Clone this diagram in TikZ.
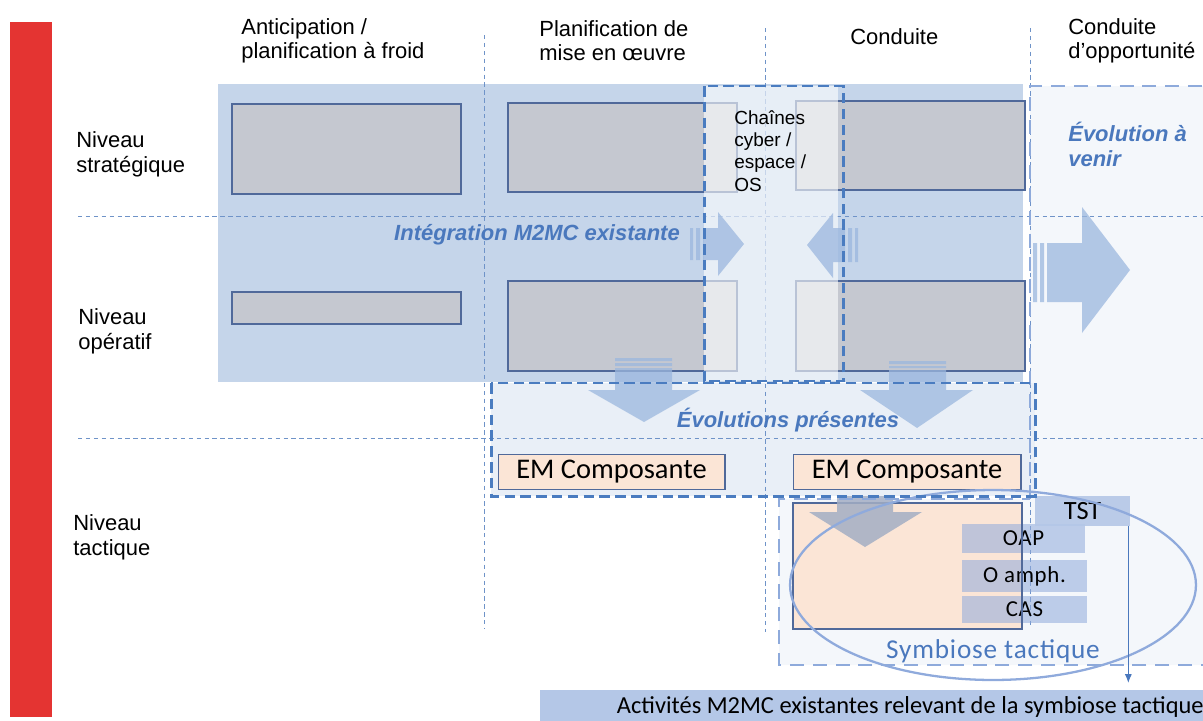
\documentclass[tikz,border=0pt]{standalone}
\usepackage{fontspec}
\setmainfont{Liberation Sans}
\newfontfamily\calib{Carlito}
\newfontfamily\calibwide[LetterSpace=3]{Carlito}
\usetikzlibrary{positioning,arrows.meta}

\definecolor{redbar}{HTML}{E43432}
\definecolor{bgblue}{HTML}{C5D5EA}
\definecolor{greybox}{HTML}{C5C8D0}
\definecolor{boxline}{HTML}{50699A}
\definecolor{peach}{HTML}{FBE5D6}
\definecolor{darkdash}{HTML}{4A7CC0}
\definecolor{lightdash}{HTML}{8EAADB}
\definecolor{gridline}{HTML}{6F93C8}
\definecolor{textblue}{HTML}{4A78BD}
\definecolor{arrowblue}{HTML}{9BB7DE}
\definecolor{arrowgrey}{HTML}{A3AEC4}
\definecolor{tagblue}{HTML}{8FAADC}
\definecolor{palefill}{HTML}{F4F7FB}
\definecolor{evofill}{HTML}{E9EFF7}
\definecolor{barblue}{HTML}{B4C7E7}

\tikzset{
  guideline/.style={gridline, line width=0.5pt, dash pattern=on 2.5pt off 2pt},
  pane/.style={draw=boxline, line width=0.6pt, fill=greybox},
  strongdash/.style={darkdash, line width=1.7pt, dash pattern=on 6pt off 3pt},
  softdash/.style={lightdash, line width=1.5pt, dash pattern=on 8pt off 5pt},
  blockarrow/.style={fill=arrowblue, fill opacity=0.75},
  colhead/.style={anchor=west, align=left, inner sep=0pt, font=\fontsize{12.5}{13.6}\selectfont},
  levelname/.style={anchor=west, align=left, inner sep=0pt, font=\fontsize{12.5}{14.2}\selectfont},
  bluetitle/.style={textblue, inner sep=0pt, font=\bfseries\itshape\fontsize{12.5}{14.2}\selectfont},
  embox/.style={draw=boxline, line width=0.6pt, fill=peach, minimum height=0.6cm,
    font=\calib\fontsize{16.2}{17}\selectfont},
  tagbox/.style={fill=tagblue, fill opacity=0.55, text opacity=1, minimum width=2.5cm,
    font=\calibwide\fontsize{13}{14}\selectfont}
}

\begin{document}
\begin{tikzpicture}[x=0.02cm, y=-0.02cm]
\useasboundingbox (0,0) rectangle (1203,720);

\fill[redbar] (10,22) rectangle (52,717);

% zones de fond
\fill[palefill] (1030,86) -- (1215,86) -- (1215,665) -- (779,665) -- (779,499) -- (1030,499) -- cycle;
\fill[bgblue] (218,84) rectangle (1023,382);
\fill[evofill] (491,383) rectangle (1035,496);

\draw[guideline] (78,216) -- (1203,216);
\draw[guideline] (78,438) -- (1203,438);
\draw[guideline] (484,35) -- (484,628);
\draw[guideline] (765,28) -- (765,632);
\draw[guideline] (1030,28) -- (1030,628);

\draw[pane] (232,104) rectangle (461,194);
\draw[pane] (232,292) rectangle (461,324);
\draw[pane] (508,103) rectangle (737,192);
\draw[pane] (508,281) rectangle (737,371);
\draw[pane] (796,101) rectangle (1025,190);
\draw[pane] (796,281) rectangle (1025,371);

\fill[white, fill opacity=0.6] (704,86) rectangle (838,381);

% fleches
\fill[blockarrow] (690,228) rectangle (693,260) (696,228) rectangle (700,260)
  (703,228) -- (718,228) -- (718,212) -- (744,244) -- (718,276) -- (718,260) -- (703,260) -- cycle;
\fill[blockarrow] (858,228) rectangle (855,262) (852,228) rectangle (848,262)
  (845,228) -- (833,228) -- (833,213) -- (807,245) -- (833,278) -- (833,262) -- (845,262) -- cycle;
\fill[blockarrow] (1033,243) rectangle (1037,302) (1040,243) rectangle (1044,302)
  (1047,243) -- (1082,243) -- (1082,207) -- (1130,270) -- (1082,333) -- (1082,302) -- (1047,302) -- cycle;
\fill[blockarrow] (615,358) rectangle (672,361) (615,363) rectangle (672,366)
  (615,368) -- (672,368) -- (672,390) -- (700,390) -- (644,422) -- (588,390) -- (615,390) -- cycle;
\fill[blockarrow] (889,361) rectangle (946,364) (889,366) rectangle (946,368)
  (889,370) -- (946,370) -- (946,390) -- (973,390) -- (917,428) -- (860,390) -- (889,390) -- cycle;

\node[embox, minimum width=4.54cm] (emPlan) at (611.5,472) {EM Composante};
\node[embox, minimum width=4.56cm] (emCond) at (907,472) {EM Composante};

\draw[boxline, line width=0.6pt, fill=peach] (793,503) rectangle (1022,629);
\fill[arrowgrey, fill opacity=0.85] (837,496) -- (893,496) -- (893,512) -- (922,512) -- (865,547) -- (809,512) -- (837,512) -- cycle;

\node[tagbox, minimum width=2.46cm, minimum height=0.58cm] (oap) at (1023.5,538.5) {OAP};
\node[tagbox, minimum height=0.64cm] (oamph) at (1024.5,576) {O amph.};
\node[tagbox, minimum height=0.54cm] (cas) at (1024.5,609.5) {CAS};
\draw[boxline, line width=0.6pt] (1022,503) -- (1022,629);
\node[fill=barblue, fill opacity=0.9, text opacity=1, minimum width=1.9cm, minimum height=0.6cm,
  font=\calib\fontsize{15}{16}\selectfont] (tst) at (1082.5,511) {TST};

\draw[tagblue, line width=1.3pt] (993,585) ellipse [x radius=4.06cm, y radius=1.9cm];

\node[fill=barblue, minimum width=14.8cm, minimum height=0.64cm, anchor=north west,
  font=\calib\fontsize{13.9}{15}\selectfont] (activ) at (540,690)
  {Activités M2MC existantes relevant de la symbiose tactique};

\coordinate (tstfoot) at ([xshift=-0.04cm]tst.south east);
\draw[textblue, line width=0.6pt, -{Latex[length=5pt,width=4pt]}, shorten >=4pt] (tstfoot) -- (tstfoot |- activ.north);

% contours
\draw[softdash] (1030,499) -- (1030,86) -- (1215,86) (1215,665) -- (779,665) -- (779,499) -- (1030,499);
\draw[strongdash] (704,86) rectangle (843,381);
\draw[strongdash] (491,383) rectangle (1035,496);

% textes
\node[colhead] (hdrAnt) at (241,41) {Anticipation /\\planification à froid};
\node[colhead] (hdrPlan) at (539,41) {Planification de\\mise en œuvre};
\node[colhead] (hdrCond) at (850,37) {Conduite};
\node[colhead] (hdrOpp) at (1068,41) {Conduite\\d’opportunité};

\node[levelname] (lvlStrat) at (76,154) {Niveau\\stratégique};
\node[levelname] (lvlOper) at (78,331) {Niveau\\opératif};
\node[levelname] (lvlTact) at (73,537) {Niveau\\tactique};

\node[anchor=west, align=left, inner sep=0pt, font=\fontsize{10.8}{12.6}\selectfont] (chaines) at (734,151)
  {Chaînes\\cyber /\\espace /\\OS};
\node[bluetitle] (integ) at (537,235) {Intégration M2MC existante};
\node[bluetitle, anchor=west, align=left] (evoVenir) at (1068,144) {Évolution à\\venir};
\node[bluetitle] (evoPres) at (788,420) {Évolutions présentes};
\node[textblue, font=\calibwide\fontsize{15.5}{17}\selectfont] (symb) at (993,651) {Symbiose tactique};
\end{tikzpicture}
\end{document}
